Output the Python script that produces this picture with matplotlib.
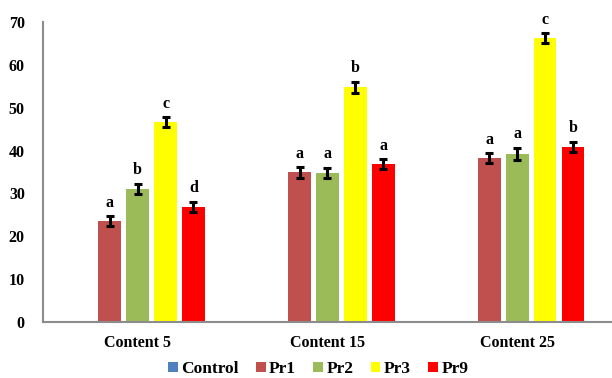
import matplotlib.pyplot as plt
import numpy as np

plt.rcParams['font.family'] = ['Liberation Serif', 'DejaVu Serif']
plt.rcParams['font.weight'] = 'bold'

categories = ["Content 5", "Content 15", "Content 25"]
series = ["Control", "Pr1", "Pr2", "Pr3", "Pr9"]
colors = ["#4F81BD", "#C0504D", "#9BBB59", "#FFFF00", "#FF0000"]

# Control has no measured values, kept for the legend only
values = {
    "Control": [0, 0, 0],
    "Pr1": [23.6, 34.9, 38.2],
    "Pr2": [31.1, 34.8, 39.3],
    "Pr3": [46.6, 54.8, 66.2],
    "Pr9": [26.9, 36.8, 40.8],
}
errors = {
    "Control": [0, 0, 0],
    "Pr1": [1.1, 1.2, 1.2],
    "Pr2": [1.2, 1.2, 1.4],
    "Pr3": [1.2, 1.3, 1.2],
    "Pr9": [1.2, 1.2, 1.2],
}
letters = {
    "Control": ["", "", ""],
    "Pr1": ["a", "a", "a"],
    "Pr2": ["b", "a", "a"],
    "Pr3": ["c", "b", "c"],
    "Pr9": ["d", "a", "b"],
}

fig = plt.figure(figsize=(6.12, 3.78), dpi=100)
ax = fig.add_axes([0.070, 0.148, 0.93, 0.794])

x = np.arange(len(categories))
slot = 0.147
width = 0.12

for i, name in enumerate(series):
    pos = x + (i - 2) * slot
    vals = values[name]
    ax.bar(pos, vals, width, color=colors[i], label=name)
    if name == "Control":
        continue
    ax.errorbar(pos, vals, yerr=errors[name], fmt="none", ecolor="black",
                elinewidth=2.2, capsize=3, capthick=2.2)
    for p, v, e, t in zip(pos, vals, errors[name], letters[name]):
        ax.annotate(t, (p, v + e), xytext=(0, 4), textcoords="offset points",
                    ha="center", va="bottom", fontsize=11.5, fontweight="bold")

ax.set_xlim(-0.5, 2.5)
ax.set_ylim(0, 70)
ax.set_yticks(range(0, 71, 10))
ax.set_xticks(x)
ax.set_xticklabels(categories)
ax.tick_params(axis="both", length=0, labelsize=11.5)
ax.tick_params(axis="y", pad=13)
ax.tick_params(axis="x", pad=9)

for s in ["top", "right"]:
    ax.spines[s].set_visible(False)
for s in ["left", "bottom"]:
    ax.spines[s].set_color("#8c8c8c")
    ax.spines[s].set_linewidth(1.5)

handles, labels = ax.get_legend_handles_labels()
fig.legend(handles, labels, loc="center", bbox_to_anchor=(0.52, 0.024),
           ncol=5, frameon=False, fontsize=12.5, handlelength=0.55,
           handleheight=0.55, handletextpad=0.2, columnspacing=1.0,
           borderpad=0.1)

fig.savefig("out.png", dpi=100)
